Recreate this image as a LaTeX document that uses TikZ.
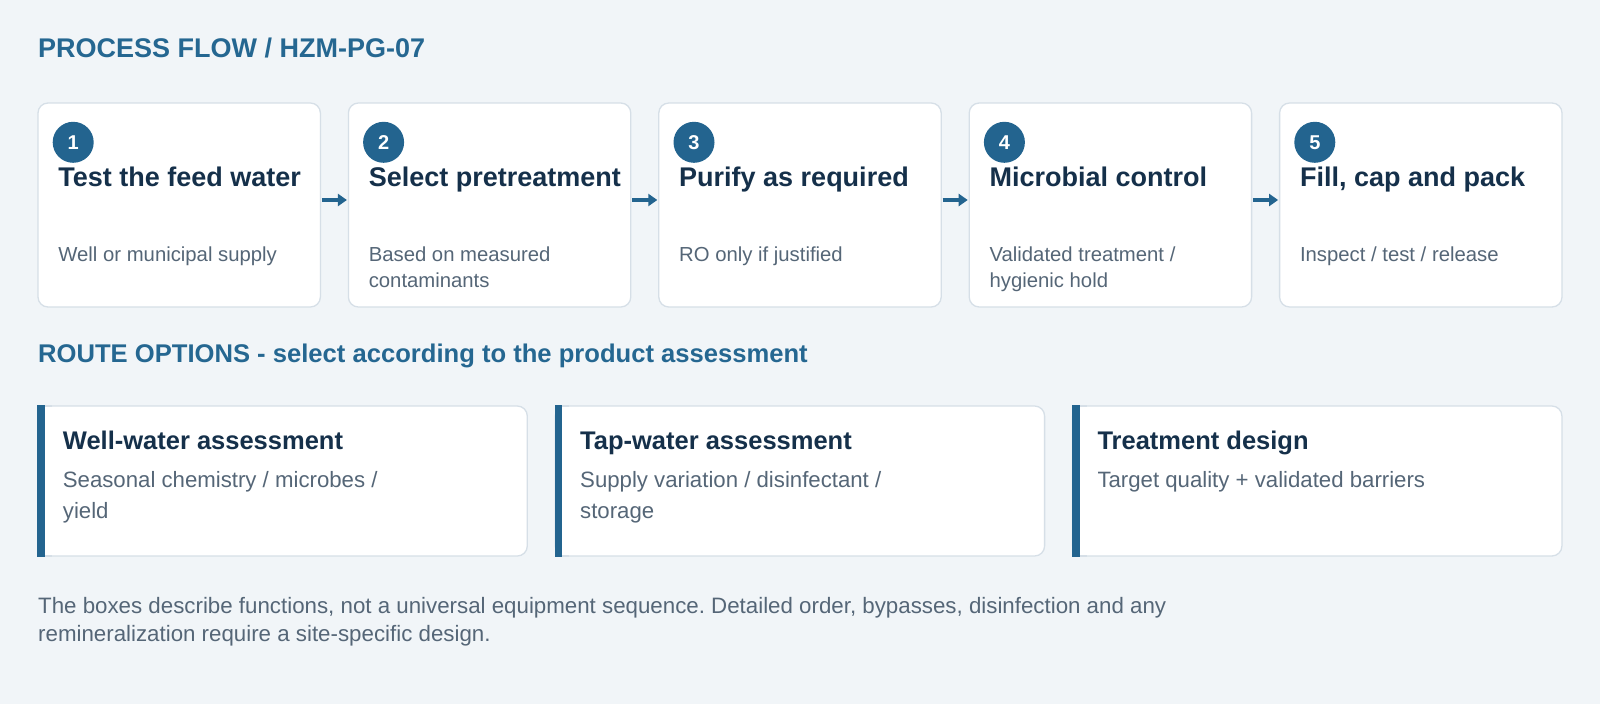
\documentclass[tikz,border=0pt]{standalone}
\usepackage{fontspec}
\setmainfont{Liberation Sans}
\usetikzlibrary{arrows.meta}
\definecolor{bgc}{RGB}{241,245,248}
\definecolor{cardborder}{RGB}{214,223,231}
\definecolor{accent}{RGB}{35,100,143}
\definecolor{headc}{RGB}{37,103,145}
\definecolor{titlec}{RGB}{21,48,74}
\definecolor{bodyc}{RGB}{85,102,119}
\newcommand{\mytwolines}[2]{\begin{tabular}[t]{@{}l@{}}#1\\#2\end{tabular}}
\frenchspacing
\begin{document}
\begin{tikzpicture}[x=1pt,y=-1pt,
  stepcard/.style={draw=cardborder, line width=1.3pt, fill=white, rounded corners=10pt,
    minimum width=282.4pt, minimum height=204pt, inner sep=0pt, outer sep=0pt},
  routecard/.style={draw=cardborder, line width=1.3pt, fill=white, rounded corners=10pt,
    minimum width=489.3pt, minimum height=150pt, inner sep=0pt, outer sep=0pt},
  badge/.style={circle, fill=accent, minimum size=41pt, inner sep=0pt, text=white,
    font=\fontsize{20}{22}\selectfont\bfseries},
  steptitle/.style={anchor=base west, inner sep=0pt, text=titlec,
    font=\fontsize{27}{32}\selectfont\bfseries},
  stepsub/.style={anchor=base west, inner sep=0pt, text=bodyc,
    font=\fontsize{20.3}{26}\selectfont},
  routetitle/.style={anchor=base west, inner sep=0pt, text=titlec,
    font=\fontsize{25.5}{30}\selectfont\bfseries},
  routesub/.style={anchor=base west, inner sep=0pt, text=bodyc,
    font=\fontsize{22.2}{31}\selectfont},
  heading/.style={anchor=base west, inner sep=0pt, text=headc},
  flow/.style={draw=accent, line width=3.5pt, -{Triangle[length=9pt,width=12pt]}},
  patch/.style={draw=cardborder, line width=1.3pt, fill=white},
]
\fill[bgc] (0,0) rectangle (1600,704);
\useasboundingbox (0,0) rectangle (1600,704);

% headings
\node[heading, font=\fontsize{27}{32}\selectfont\bfseries] (h1) at (38,57.7) {PROCESS FLOW / HZM-PG-07};
\node[heading, font=\fontsize{25.6}{30}\selectfont\bfseries] (h2) at (38,362.7) {ROUTE OPTIONS - select according to the product assessment};

% step cards
\node[stepcard] (c1) at (179.2,205) {};
\node[stepcard] (c2) at (489.6,205) {};
\node[stepcard] (c3) at (800.0,205) {};
\node[stepcard] (c4) at (1110.4,205) {};
\node[stepcard] (c5) at (1420.8,205) {};

\node[badge] (b1) at (73.2,142.3) {1};
\node[badge] (b2) at (383.6,142.3) {2};
\node[badge] (b3) at (694.0,142.3) {3};
\node[badge] (b4) at (1004.4,142.3) {4};
\node[badge] (b5) at (1314.8,142.3) {5};

\node[steptitle] (t1) at (58.2,186.5) {Test the feed water};
\node[steptitle] (t2) at (368.6,186.5) {Select pretreatment};
\node[steptitle] (t3) at (679.0,186.5) {Purify as required};
\node[steptitle] (t4) at (989.4,186.5) {Microbial control};
\node[steptitle] (t5) at (1299.8,186.5) {Fill, cap and pack};

\node[stepsub] (s1) at (58.2,261.5) {Well or municipal supply};
\node[stepsub] (s2) at (368.6,261.5) {\mytwolines{Based on measured}{contaminants}};
\node[stepsub] (s3) at (679.0,261.5) {RO only if justified};
\node[stepsub] (s4) at (989.4,261.5) {\mytwolines{Validated treatment /}{hygienic hold}};
\node[stepsub] (s5) at (1299.8,261.5) {Inspect / test / release};

\draw[flow] ([xshift=1.5pt,yshift=5pt]c1.east) -- ([xshift=-1.5pt,yshift=5pt]c2.west);
\draw[flow] ([xshift=1.5pt,yshift=5pt]c2.east) -- ([xshift=-1.5pt,yshift=5pt]c3.west);
\draw[flow] ([xshift=1.5pt,yshift=5pt]c3.east) -- ([xshift=-1.5pt,yshift=5pt]c4.west);
\draw[flow] ([xshift=1.5pt,yshift=5pt]c4.east) -- ([xshift=-1.5pt,yshift=5pt]c5.west);

% route cards
\node[routecard] (r1) at (282.65,481) {};
\node[routecard] (r2) at (799.95,481) {};
\node[routecard] (r3) at (1317.25,481) {};
\foreach \r in {r1,r2,r3}{
  \draw[patch] ([xshift=14pt]\r.north west) -- (\r.north west) -- (\r.south west) -- ([xshift=14pt]\r.south west);
  \fill[accent] ([xshift=-0.65pt,yshift=0.65pt]\r.north west) rectangle ([xshift=7pt,yshift=-0.65pt]\r.south west);
}

\node[routetitle] (rt1) at (62.7,449.3) {Well-water assessment};
\node[routetitle] (rt2) at (580.0,449.3) {Tap-water assessment};
\node[routetitle] (rt3) at (1097.3,449.3) {Treatment design};

\node[routesub] (rs1) at (62.7,487.3) {\mytwolines{Seasonal chemistry / microbes /}{yield}};
\node[routesub] (rs2) at (580.0,487.3) {\mytwolines{Supply variation / disinfectant /}{storage}};
\node[routesub] (rs3) at (1097.3,487.3) {Target quality + validated barriers};

% footnote
\node[anchor=base west, inner sep=0pt, text=bodyc, font=\fontsize{22.3}{28}\selectfont] (fn) at (38,613)
  {\mytwolines{The boxes describe functions, not a universal equipment sequence. Detailed order, bypasses, disinfection and any}{remineralization require a site-specific design.}};
\end{tikzpicture}
\end{document}
